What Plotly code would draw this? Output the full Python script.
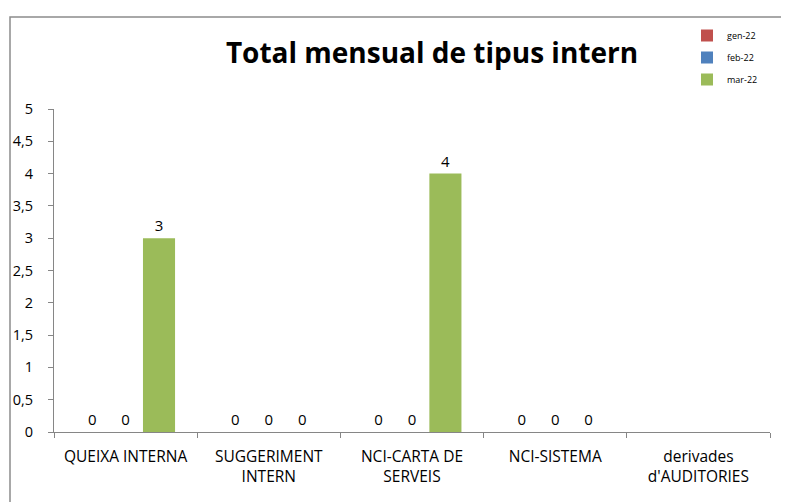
import plotly.graph_objects as go

categories = ["QUEIXA INTERNA", "SUGGERIMENT<br>INTERN", "NCI-CARTA DE<br>SERVEIS",
              "NCI-SISTEMA", "derivades<br>d'AUDITORIES"]
series_names = ["gen-22", "feb-22", "mar-22"]
gen_22 = [0, 0, 0, 0, None]
feb_22 = [0, 0, 0, 0, None]
mar_22 = [3, 0, 4, 0, None]
colors = ["#C0504D", "#4F81BD", "#9BBB59"]
y_ticks = [0, 0.5, 1, 1.5, 2, 2.5, 3, 3.5, 4, 4.5, 5]

W, H = 789, 502
L, R, T, B = 46, 27, 101, 78
pw, ph = W - L - R, H - T - B

fig = go.Figure()
for i, (name, vals) in enumerate(zip(series_names, [gen_22, feb_22, mar_22])):
    fig.add_trace(go.Bar(
        x=categories, y=vals, name=name, marker_color=colors[i],
        marker_line_width=0,
        text=[("" if v is None else str(v)) for v in vals],
        textposition="outside", cliponaxis=False,
        textfont=dict(family="Open Sans", size=15, color="#000"),
        legendgroup=name,
    ))

axis_col = "#868686"
fig.update_layout(
    width=W, height=H,
    margin=dict(l=L, r=R, t=T, b=B, autoexpand=False),
    paper_bgcolor="white", plot_bgcolor="white",
    barmode="group", bargap=0.30, bargroupgap=0.04,
    separators=",.",
    font=dict(family="Open Sans", size=14, color="#000"),
    title=dict(text="<b>Total mensual de tipus intern</b>",
               font=dict(family="Open Sans", size=28, color="#000"),
               x=(424 - L) / pw, xref="paper", xanchor="center",
               y=1 - 45 / H, yref="container", yanchor="middle"),
    showlegend=True,
    legend=dict(x=679 / W, y=1 - 13 / H, xref="container", yref="container",
                xanchor="left", yanchor="top",
                font=dict(family="Open Sans", size=9, color="#000"),
                bgcolor="rgba(0,0,0,0)", tracegroupgap=3, itemwidth=30),
    xaxis=dict(showline=True, linecolor=axis_col, linewidth=1,
               ticks="outside", ticklen=5, tickcolor=axis_col, tickson="boundaries",
               showgrid=False, tickfont=dict(size=15.5), zeroline=False,
               ticklabelstandoff=10),
    yaxis=dict(range=[0, 5], tickvals=y_ticks, showline=True, linecolor=axis_col, linewidth=1,
               ticks="outside", ticklen=5, tickcolor=axis_col, showgrid=False,
               zeroline=False, tickfont=dict(size=14.5), ticklabelstandoff=12),
    shapes=[dict(type="rect", xref="paper", yref="paper",
                 x0=(2 - L) / pw, x1=1.2, y0=-0.5, y1=(H - B - 9) / ph,
                 line=dict(color="#8c8c8c", width=1.5), fillcolor="rgba(0,0,0,0)", layer="below")],
)
fig.write_html("out.html")
